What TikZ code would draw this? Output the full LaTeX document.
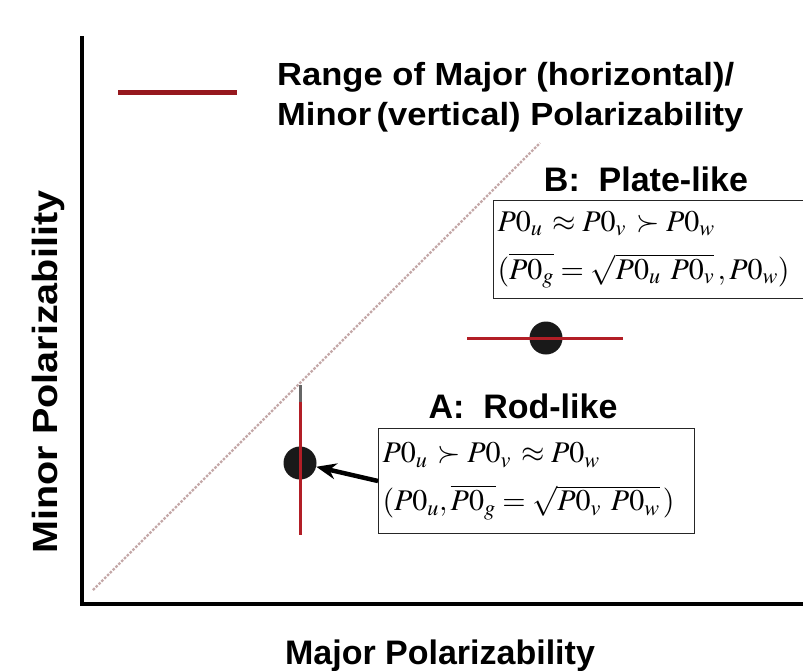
\documentclass[tikz,border=0pt]{standalone}
\usepackage{mathptmx}
\usepackage[no-math]{fontspec}
\setmainfont{Liberation Sans}
\newfontfamily\widefont{Liberation Sans Bold}[FakeStretch=1.08]
\newfontfamily\tallfont{Liberation Sans Bold}[FakeStretch=1.13]
\usetikzlibrary{arrows.meta}
\definecolor{rangered}{RGB}{178,30,38}
\definecolor{legendred}{RGB}{150,24,30}
\definecolor{diagpink}{RGB}{196,168,168}
\begin{document}
\begin{tikzpicture}[x=1pt, y=-1pt,
  title/.style={font=\fontsize{34}{40}\selectfont\bfseries, inner sep=0pt},
  legendtext/.style={font=\fontsize{32}{38}\widefont, inner sep=0pt, anchor=base west},
  formula/.style={draw=black!85, line width=1pt, align=left, anchor=north west,
    inner xsep=4pt, inner ysep=0pt, font=\fontsize{30}{36}\selectfont},
  rangebar/.style={rangered, line width=3pt},
  dot/.style={circle, fill=black!90, minimum size=33pt, inner sep=0pt}]
  \useasboundingbox[fill=white] (0,0) rectangle (803,670);

  % diagonal
  \draw[diagpink, line width=2.4pt, dash pattern=on 2.5pt off 1.5pt] (93,590) -- (540,143);

  % axes
  \draw[line width=4pt] (82,36) -- (82,604) -- (810,604);
  \node[title, font=\fontsize{35}{40}\tallfont, rotate=90, anchor=base] (ylabel) at (57,372) {Minor Polarizability};
  \node[title, anchor=base] (xlabel) at (440,664) {Major Polarizability};

  % legend
  \draw[legendred, line width=5pt] (118,92) -- (237,92);
  \node[legendtext] (legend1) at (277,85) {Range of Major (horizontal)/};
  \node[legendtext] (legend2) at (277,125) {Minor\,(vertical) Polarizability};

  % B: plate-like
  \node[title, anchor=base] (labelB) at (646,191) {B:\ \ Plate-like};
  \node[formula, text width=314pt, minimum height=98pt] (boxB) at (493,200)
    {$P0_u\, \approx P0_v\, \succ P0_w$\\[12pt]
     $(\overline{P0_g} = \sqrt{P0_u\ P0_v}\,, P0_w)$};
  \node[dot] (dotB) at (546,338) {};
  \draw[rangebar] (467,338) -- (623,338);

  % A: rod-like
  \node[title, anchor=base] (labelA) at (523,418) {A:\ \ Rod-like};
  \node[formula, text width=308pt, minimum height=105pt] (boxA) at (378,428)
    {$P0_u\, \succ P0_v\, \approx P0_w$\\[12pt]
     $(P0_u, \overline{P0_g} = \sqrt{P0_v\ P0_w}\,)$};
  \node[dot] (dotA) at (300,463) {};
  \draw[black!60, line width=3pt] (300,385) -- (300,402);
  \draw[rangebar] (300,402) -- (300,535);
  \draw[-{Stealth[length=20pt,width=16pt]}, line width=4.5pt] (boxA.west) -- (dotA);
\end{tikzpicture}
\end{document}
